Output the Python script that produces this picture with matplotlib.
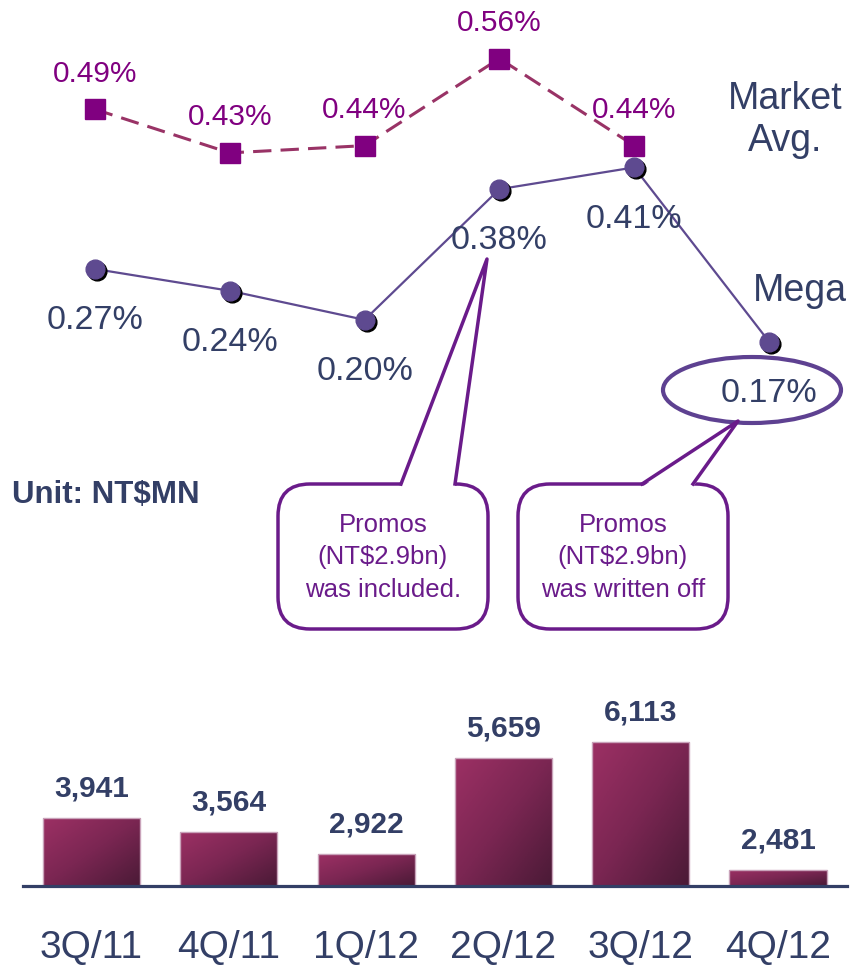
import numpy as np
import matplotlib
matplotlib.use("Agg")
import matplotlib.pyplot as plt
from matplotlib import transforms
from matplotlib.colors import LinearSegmentedColormap
from matplotlib.patches import FancyBboxPatch, Polygon, Ellipse
from matplotlib.lines import Line2D

plt.rcParams['font.family'] = ['Liberation Sans', 'DejaVu Sans']

quarters = ['3Q/11', '4Q/11', '1Q/12', '2Q/12', '3Q/12', '4Q/12']
market_avg = [0.49, 0.43, 0.44, 0.56, 0.44]      # NPL ratio, %
mega = [0.27, 0.24, 0.20, 0.38, 0.41, 0.17]      # NPL ratio, %
npl_amount = [3941, 3564, 2922, 5659, 6113, 2481]  # NT$MN

navy = '#333F66'
mkt_purple = '#800080'
mkt_line = '#993366'
mega_col = '#5E4A90'
call_col = '#6A1B8A'

fig = plt.figure(figsize=(8.54, 9.70), dpi=100)

# --- ratio lines (top) ---
ax = fig.add_axes([0, 1 - 466 / 970, 1, 466 / 970])
ax.set_xlim(-0.7047, 5.6306)
ax.set_ylim(0, 0.642)
ax.axis('off')

x_m = np.arange(len(market_avg))
x_g = np.arange(len(mega))
ax.plot(x_m, market_avg, color=mkt_line, lw=2.2, ls=(0, (6, 3)), zorder=2)
ax.plot(x_m, market_avg, ls='none', marker='s', ms=14.4, color=mkt_purple, zorder=3)

shadow = transforms.offset_copy(ax.transData, fig=fig, x=2, y=-2, units='dots')
ax.plot(x_g, mega, color=mega_col, lw=1.6, zorder=2)
ax.plot(x_g, mega, ls='none', marker='o', ms=13.5, color='black', transform=shadow, zorder=3)
ax.plot(x_g, mega, ls='none', marker='o', ms=13.5, color=mega_col, zorder=4)

for i, v in enumerate(market_avg):
    ax.annotate(f'{v:.2f}%', (i, v), xytext=(0, 26.5), textcoords='offset points',
                ha='center', va='center', fontsize=21.5, color=mkt_purple)
for i, v in enumerate(mega):
    ax.annotate(f'{v:.2f}%', (i, v), xytext=(0, -36.5), textcoords='offset points',
                ha='center', va='center', fontsize=24.5, color=navy)

# --- NPL amount bars (bottom) ---
axb = fig.add_axes([0, 1 - 887 / 970, 1, 187 / 970])
axb.set_xlim(-0.6664, 5.5535)
ybase = 2020
axb.set_ylim(ybase, 7332)
for s in axb.spines.values():
    s.set_visible(False)
axb.set_yticks([])
axb.set_xticks(range(len(quarters)))
axb.set_xticklabels(quarters, fontsize=28, color=navy)
axb.tick_params(axis='x', length=0, pad=31)

bars = axb.bar(range(len(npl_amount)), [v - ybase for v in npl_amount], bottom=ybase,
               width=0.707, facecolor='none', edgecolor='#C9A3BA', lw=1.0, zorder=3)
cmap = LinearSegmentedColormap.from_list('bar', ['#9C3064', '#7A2652', '#4A1A36'])
gx, gy = np.meshgrid(np.linspace(0, 1, 64), np.linspace(0, 1, 64))
grad = (gx + gy) / 2
for b in bars:
    x0, y0 = b.get_x(), b.get_y()
    im = axb.imshow(grad, cmap=cmap, extent=(x0, x0 + b.get_width(), y0, y0 + b.get_height()),
                    aspect='auto', origin='upper', zorder=2)
    im.set_clip_path(b)
axb.set_xlim(-0.6664, 5.5535)
axb.set_ylim(ybase, 7332)
axb.axhline(ybase, xmin=23 / 854, xmax=847 / 854, color=navy, lw=2.3, zorder=4, clip_on=False)

for i, v in enumerate(npl_amount):
    axb.annotate(f'{v:,}', (i, v), xytext=(0, 22), textcoords='offset points',
                 ha='center', va='center', fontsize=21.5, fontweight='bold', color=navy)

# --- labels and callouts (pixel overlay) ---
ov = fig.add_axes([0, 0, 1, 1])
ov.set_xlim(0, 854)
ov.set_ylim(970, 0)
ov.axis('off')
ov.patch.set_visible(False)

ov.text(785, 120, 'Market\nAvg.', ha='center', va='center', fontsize=27,
        color=navy, multialignment='center', linespacing=1.2)
ov.text(800, 291, 'Mega', ha='center', va='center', fontsize=27, color=navy)
ov.text(12, 495, 'Unit: NT$MN', ha='left', va='center', fontsize=22.5,
        fontweight='bold', color=navy)

ov.add_patch(Ellipse((752, 391), 178, 66, fill=False, edgecolor='#5E4191', lw=3))

callouts = [
    dict(box=(278, 485, 210, 145), base=(401, 455), tip=(487, 260),
         text='Promos\n(NT$2.9bn)\nwas included.'),
    dict(box=(518, 485, 210, 145), base=(642, 693), tip=(738, 422),
         text='Promos\n(NT$2.9bn)\nwas written off'),
]
for c in callouts:
    x, y, w, h = c['box']
    ov.add_patch(FancyBboxPatch((x, y), w, h, boxstyle='round,pad=0,rounding_size=32',
                                facecolor='white', edgecolor=call_col, lw=2.5))
    bl, br = c['base']
    tx, ty = c['tip']
    ov.add_patch(Polygon([(bl, y + 3), (tx, ty), (br, y + 3)], closed=True,
                         facecolor='white', edgecolor='none', zorder=3))
    ov.add_line(Line2D([bl, tx, br], [y, ty, y], color=call_col, lw=2.5, zorder=4))
    ov.text(x + w / 2, y + h / 2, c['text'], ha='center', va='center',
            fontsize=18.5, color=call_col, linespacing=1.45, zorder=5)

fig.savefig('out.png', dpi=100)
